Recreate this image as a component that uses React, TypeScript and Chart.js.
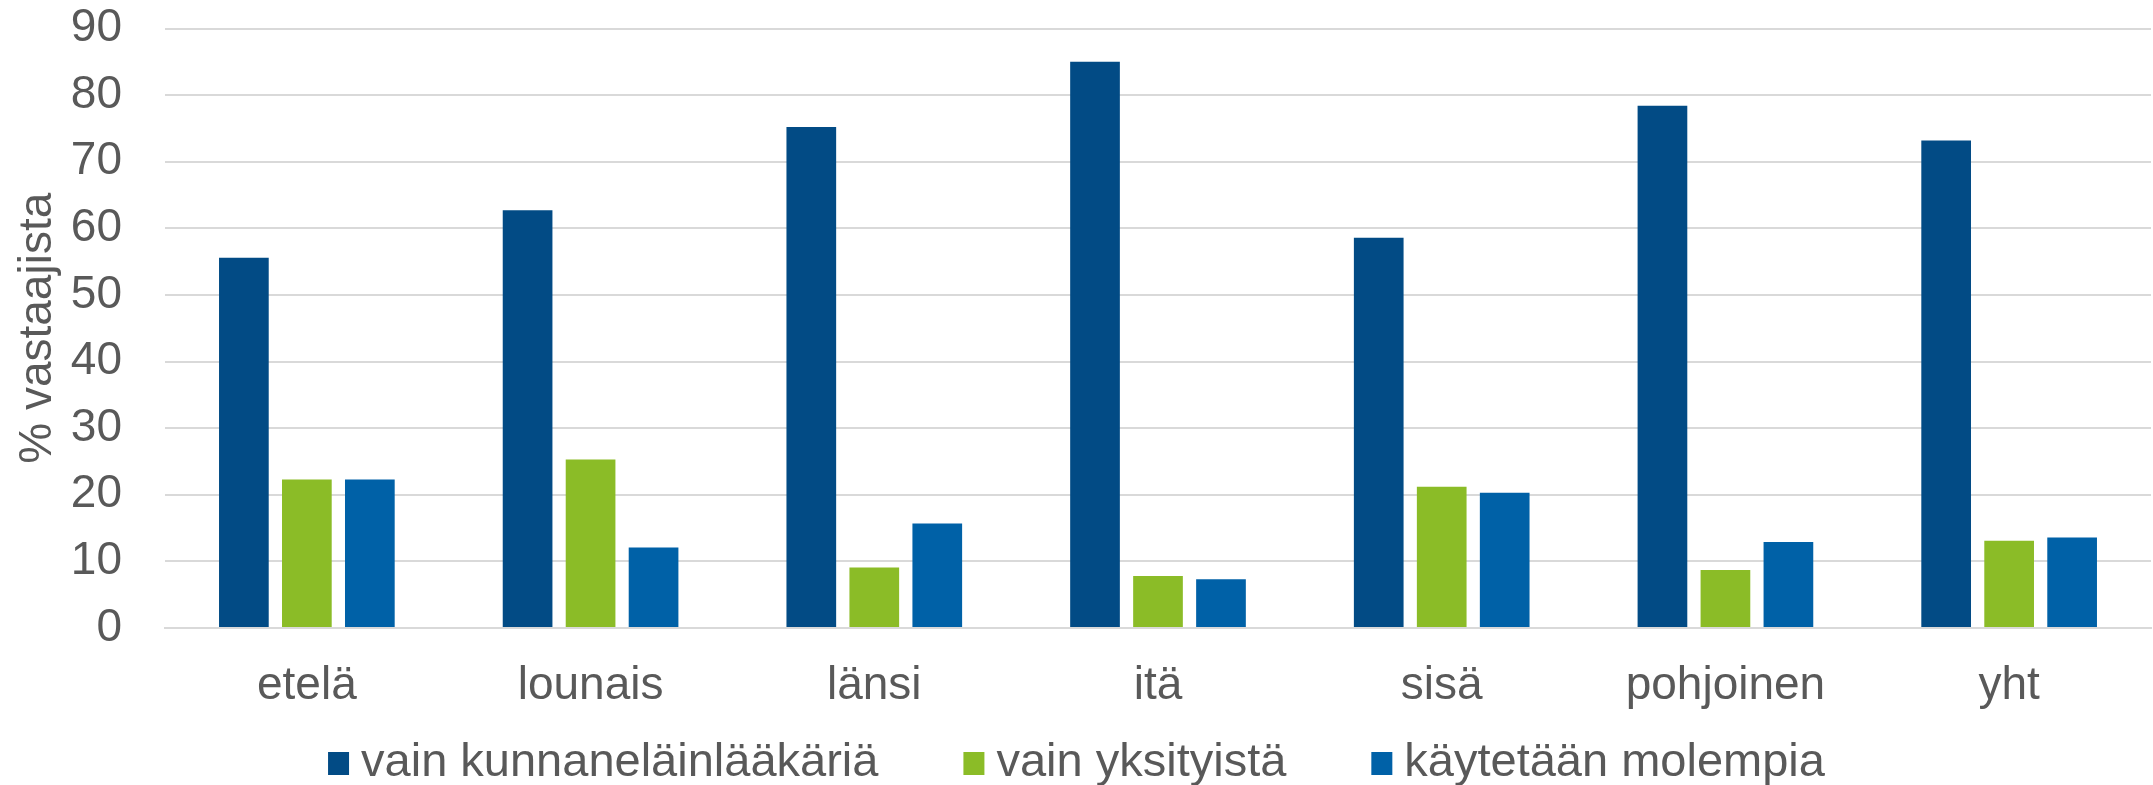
import React, { useEffect, useRef } from "react";
import { Chart, registerables } from "chart.js";

Chart.register(...registerables);

const categories = ["etelä", "lounais", "länsi", "itä", "sisä", "pohjoinen", "yht"];
const seriesNames = ["vain kunnaneläinlääkäriä", "vain yksityistä", "käytetään molempia"];
const kunnaneläinlääkäri = [55.6, 62.7, 75.2, 85.0, 58.6, 78.4, 73.2];
const yksityinen = [22.3, 25.3, 9.1, 7.8, 21.2, 8.7, 13.1];
const molemmat = [22.3, 12.1, 15.7, 7.3, 20.3, 12.9, 13.6];
const seriesColors = ["#024B85", "#8BBC27", "#0061A7"];
const yAxisTitle = "% vastaajista";
const yMin = 0;
const yMax = 90;
const yStep = 10;

const FONT = '"Liberation Sans", Arial, Helvetica, sans-serif';
const TEXT = "#595959";
const FONT_SIZE = 46;
const LEGEND_FONT_SIZE = 47;

const legendPlugin = {
  id: "customLegend",
  afterDraw(chart: any) {
    const ctx = chart.ctx as CanvasRenderingContext2D;
    ctx.save();
    ctx.font = `${LEGEND_FONT_SIZE}px ${FONT}`;
    const box = 21;
    const boxH = 23;
    const gapText = 12;
    const gapItem = 85;
    const widths = seriesNames.map((n) => ctx.measureText(n).width);
    const total =
      widths.reduce((a, w) => a + box + gapText + w, 0) + gapItem * (seriesNames.length - 1);
    let x = (chart.width - total) / 2;
    const baseline = chart.height - 9;
    ctx.textBaseline = "alphabetic";
    ctx.textAlign = "left";
    seriesNames.forEach((name, i) => {
      ctx.fillStyle = seriesColors[i];
      ctx.fillRect(x, baseline - boxH - 1, box, boxH);
      ctx.fillStyle = TEXT;
      ctx.fillText(name, x + box + gapText, baseline);
      x += box + gapText + widths[i] + gapItem;
    });
    ctx.restore();
  },
};

export default function App() {
  const ref = useRef<HTMLCanvasElement | null>(null);

  useEffect(() => {
    document.body.style.margin = "0";
    const canvas = ref.current;
    if (!canvas) return;
    const data = [kunnaneläinlääkäri, yksityinen, molemmat];
    const chart = new Chart(canvas, {
      type: "bar",
      data: {
        labels: categories,
        datasets: seriesNames.map((name, i) => ({
          label: name,
          data: data[i],
          backgroundColor: seriesColors[i],
          borderWidth: 0,
          categoryPercentage: 0.666,
          barPercentage: 0.789,
        })),
      },
      options: {
        animation: false,
        responsive: false,
        devicePixelRatio: 1,
        layout: { padding: { top: 28.5, right: 2, left: 0, bottom: 0 } },
        plugins: {
          legend: { display: false },
          tooltip: { enabled: false },
        },
        scales: {
          x: {
            grid: { display: false, drawTicks: false },
            border: { display: true, color: "#d9d9d9", width: 2 },
            ticks: {
              color: TEXT,
              font: { family: FONT, size: FONT_SIZE },
              padding: 31,
              maxRotation: 0,
            },
            afterFit: (scale: any) => {
              scale.height = 157;
              scale.paddingLeft = 0;
              scale.paddingRight = 0;
            },
          },
          y: {
            min: yMin,
            max: yMax,
            grid: { color: "#d9d9d9", lineWidth: 2, drawTicks: false },
            border: { display: false },
            ticks: {
              stepSize: yStep,
              color: TEXT,
              font: { family: FONT, size: FONT_SIZE },
              padding: 43,
            },
            title: {
              display: true,
              text: yAxisTitle,
              color: TEXT,
              font: { family: FONT, size: FONT_SIZE },
              padding: { top: 11, bottom: 0 },
            },
            afterFit: (scale: any) => {
              scale.width = 165;
              scale.paddingTop = 0;
              scale.paddingBottom = 0;
            },
          },
        },
      },
      plugins: [legendPlugin],
    });
    return () => chart.destroy();
  }, []);

  return (
    <div style={{ width: 2153, height: 785, background: "#fff" }}>
      <canvas ref={ref} width={2153} height={785} style={{ display: "block" }} />
    </div>
  );
}
